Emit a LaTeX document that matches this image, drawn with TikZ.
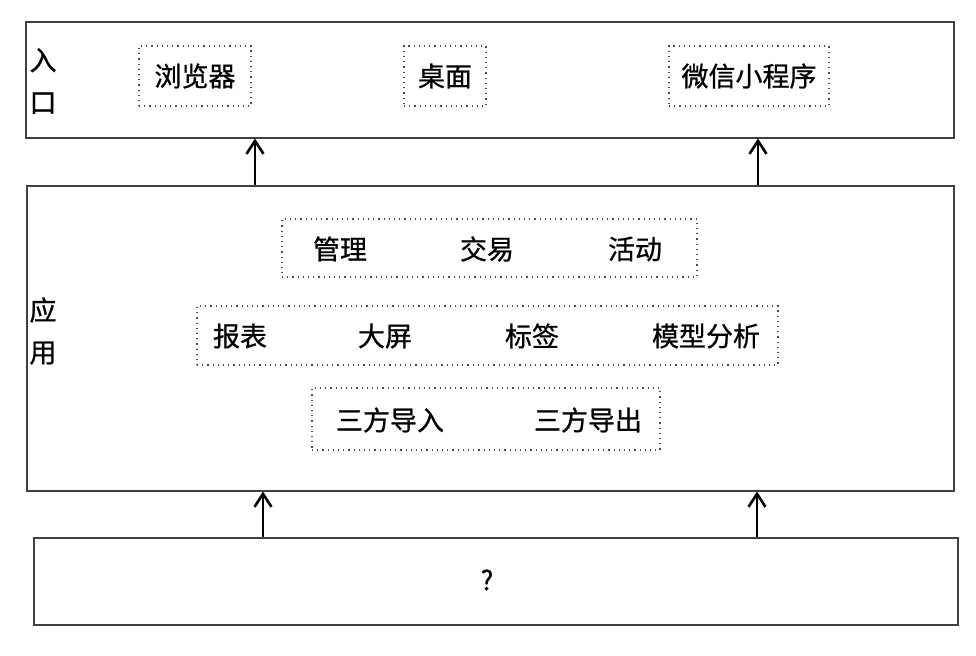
\documentclass[tikz,border=0pt]{standalone}
\usepackage{fontspec}
\setmainfont{Noto Sans CJK SC}[FakeBold=0.8]
\usetikzlibrary{arrows.meta}

\begin{document}
\begin{tikzpicture}[x=0.5pt, y=-0.5pt, >={Straight Barb[length=6.5pt,width=8.5pt]},
  layer/.style={draw=black!75, line width=0.75pt, rectangle, anchor=north west, inner sep=0pt},
  group/.style={draw=black!70, dotted, line width=0.6pt, rectangle, inner sep=0pt},
  item/.style={font=\fontsize{13.5}{16}\selectfont},
  side/.style={font=\fontsize{13.5}{21}\selectfont, align=center},
  flow/.style={->, line width=1.3pt}]
  \useasboundingbox (0,0) rectangle (976,655);

  % layers
  \node[layer, minimum width=464pt, minimum height=58pt] (entry) at (25,21) {};
  \node[layer, minimum width=463.5pt, minimum height=152.5pt] (app) at (26,185) {};
  \node[layer, minimum width=462pt, minimum height=43.5pt] (base) at (33,537) {};

  \node[side] (entrylbl) at (43,81) {入\\口};
  \node[side] (applbl) at (43,331) {应\\用};

  % entry points
  \node[group, item, minimum width=56pt, minimum height=30pt] (browser) at (195,76) {浏览器};
  \node[group, item, minimum width=41pt, minimum height=30pt] (desktop) at (445,76) {桌面};
  \node[group, item, minimum width=80pt, minimum height=30pt] (wechat) at (749,76) {微信小程序};

  % application rows
  \node[group, minimum width=207.5pt, minimum height=29pt] (rowa) at (489.5,248) {};
  \node[item] (manage) at (340,249) {管理};
  \node[item] (trade) at (487,249) {交易};
  \node[item] (event) at (635,249) {活动};

  \node[group, minimum width=290.5pt, minimum height=29.5pt] (rowb) at (487.5,335.5) {};
  \node[item] (report) at (240,336) {报表};
  \node[item] (screen) at (385,336) {大屏};
  \node[item] (tag) at (532,336) {标签};
  \node[item] (model) at (706,336) {模型分析};

  \node[group, minimum width=174pt, minimum height=31pt] (rowc) at (486,419) {};
  \node[item] (import) at (390,420) {三方导入};
  \node[item] (export) at (588,420) {三方导出};

  \node[item] (unknown) at (487,580) {?};

  % arrows
  \draw[flow] (app.north -| 255,0) -- (entry.south -| 255,0);
  \draw[flow] (app.north -| 758,0) -- (entry.south -| 758,0);
  \draw[flow] (base.north -| 263,0) -- (app.south -| 263,0);
  \draw[flow] (base.north -| 757,0) -- (app.south -| 757,0);
\end{tikzpicture}
\end{document}
